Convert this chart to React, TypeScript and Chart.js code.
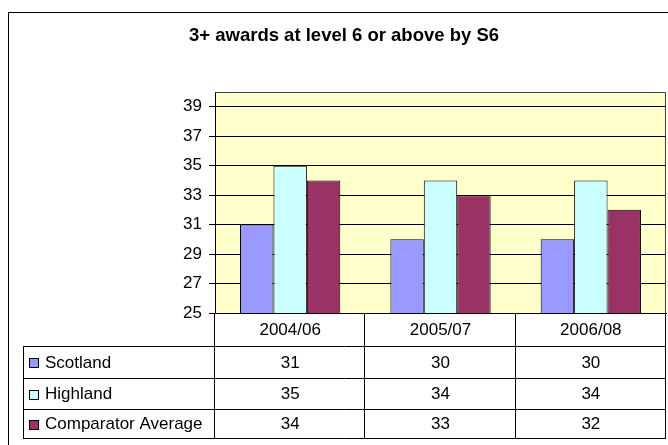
import React, { useEffect, useRef } from "react";
import { Chart, registerables } from "chart.js";

Chart.register(...registerables);

const title = "3+ awards at level 6 or above by S6";
const categories = ["2004/06", "2005/07", "2006/08"];
const seriesNames = ["Scotland", "Highland", "Comparator Average"];
const scotland = [31, 30, 30];
const highland = [35, 34, 34];
const comparator = [34, 33, 32];
const seriesColors = ["#9999FF", "#CCFFFF", "#993366"];
const yTickValues = [25, 27, 29, 31, 33, 35, 37, 39];
const yMin = 25;
const yMax = 40;

const FONT = "'Liberation Sans', Arial, sans-serif";

export default function App() {
  const ref = useRef<HTMLCanvasElement | null>(null);

  useEffect(() => {
    const canvas = ref.current;
    if (!canvas) return;
    const seriesValues = [scotland, highland, comparator];

    const tablePlugin = {
      id: "excelTable",
      beforeDraw(chart: any) {
        const { ctx, chartArea } = chart;
        ctx.save();
        ctx.fillStyle = "#FFFFFF";
        ctx.fillRect(0, 0, chart.width, chart.height);
        ctx.fillStyle = "#FFFFCC";
        ctx.fillRect(chartArea.left, chartArea.top, chartArea.right - chartArea.left, chartArea.bottom - chartArea.top);
        ctx.strokeStyle = "#000000";
        ctx.lineWidth = 1;
        ctx.strokeRect(8.5, 12.5, 800, 800);
        ctx.restore();
      },
      afterDraw(chart: any) {
        const { ctx, chartArea } = chart;
        const x = chart.scales.x;
        ctx.save();
        // plot border (top/right)
        ctx.strokeStyle = "#404040";
        ctx.lineWidth = 1;
        ctx.beginPath();
        ctx.moveTo(chartArea.left, Math.round(chartArea.top) + 0.5);
        ctx.lineTo(chartArea.right - 0.5, Math.round(chartArea.top) + 0.5);
        ctx.lineTo(chartArea.right - 0.5, chartArea.bottom);
        ctx.stroke();

        // title
        ctx.fillStyle = "#000000";
        ctx.font = "bold 18.5px " + FONT;
        ctx.textAlign = "center";
        ctx.textBaseline = "middle";
        ctx.fillText(title, 344, 36);

        // table
        const rowTops = [346, 378, 409];
        const rowBottom = 438;
        const tableLeft = 23;
        const n = categories.length;
        const colW = (chartArea.right - chartArea.left) / n;
        ctx.strokeStyle = "#000000";
        ctx.lineWidth = 1;
        ctx.beginPath();
        // horizontal lines
        [...rowTops, rowBottom].forEach((ry) => {
          ctx.moveTo(tableLeft, ry + 0.5);
          ctx.lineTo(chartArea.right, ry + 0.5);
        });
        // vertical lines
        ctx.moveTo(tableLeft + 0.5, rowTops[0]);
        ctx.lineTo(tableLeft + 0.5, rowBottom + 1);
        for (let i = 0; i <= n; i++) {
          const vx = Math.round(chartArea.left + i * colW) - 0.5;
          ctx.moveTo(vx, chartArea.bottom);
          ctx.lineTo(vx, rowBottom + 1);
        }
        ctx.stroke();

        ctx.font = "17px " + FONT;
        ctx.textBaseline = "middle";
        for (let s = 0; s < seriesNames.length; s++) {
          const top = rowTops[s];
          const bottom = s + 1 < rowTops.length ? rowTops[s + 1] : rowBottom;
          const cy = (top + bottom) / 2 + 1;
          // legend key
          ctx.fillStyle = seriesColors[s];
          ctx.fillRect(30, Math.round(cy) - 4, 9, 9);
          ctx.strokeStyle = "#000000";
          ctx.strokeRect(29.5, Math.round(cy) - 4.5, 9, 9);
          ctx.fillStyle = "#000000";
          ctx.textAlign = "left";
          ctx.fillText(seriesNames[s], 45, cy);
          ctx.textAlign = "center";
          for (let i = 0; i < n; i++) {
            ctx.fillText(String(seriesValues[s][i]), x.getPixelForValue(i), cy);
          }
        }
        ctx.restore();
      },
    };

    const chart = new Chart(canvas, {
      type: "bar",
      data: {
        labels: categories,
        datasets: seriesNames.map((name, i) => ({
          label: name,
          data: seriesValues[i],
          backgroundColor: seriesColors[i],
          borderColor: "#000000",
          borderWidth: 1,
          categoryPercentage: 0.667,
          barPercentage: 1,
        })),
      },
      options: {
        responsive: false,
        animation: false,
        devicePixelRatio: 1,
        layout: { padding: { left: 0, right: 2, top: 92, bottom: 7 } },
        plugins: {
          legend: { display: false },
          title: { display: false },
          tooltip: { enabled: false },
        },
        scales: {
          x: {
            offset: true,
            grid: { display: false, drawTicks: false },
            border: { display: true, color: "#000000", width: 1 },
            ticks: { color: "#000000", font: { family: FONT, size: 17 }, padding: 7, maxRotation: 0 },
            afterFit: (scale: any) => {
              scale.height = 125;
            },
          },
          y: {
            min: yMin,
            max: yMax,
            grid: { color: "#000000", lineWidth: 1, tickLength: 6, drawTicks: true },
            border: { display: true, color: "#000000", width: 1 },
            ticks: { color: "#000000", font: { family: FONT, size: 17 }, padding: 7 },
            afterBuildTicks: (scale: any) => {
              scale.ticks = yTickValues.map((v) => ({ value: v }));
            },
            afterFit: (scale: any) => {
              scale.width = 215;
            },
          },
        },
      },
      plugins: [tablePlugin],
    });
    return () => chart.destroy();
  }, []);

  return (
    <div style={{ position: "fixed", left: 0, top: 0, width: 668, height: 445, background: "#fff" }}>
      <canvas ref={ref} width={668} height={445} style={{ display: "block", width: 668, height: 445 }} />
    </div>
  );
}
